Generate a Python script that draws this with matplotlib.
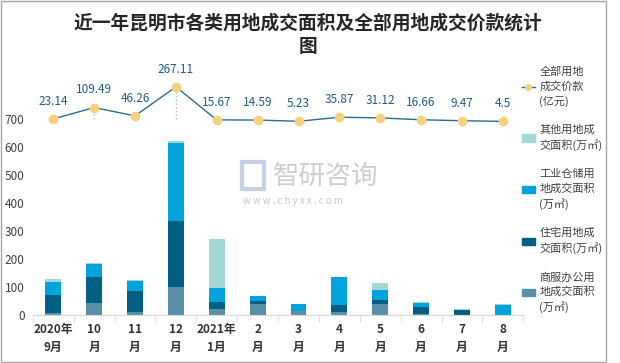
import numpy as np
import matplotlib.pyplot as plt
from matplotlib.patches import Rectangle
from matplotlib.lines import Line2D
from matplotlib.patches import Patch

plt.rcParams['font.family'] = ['Noto Sans CJK SC', 'DejaVu Sans']

months = ["2020年\n9月", "10\n月", "11\n月", "12\n月", "2021年\n1月", "2\n月", "3\n月",
          "4\n月", "5\n月", "6\n月", "7\n月", "8\n月"]
# 用地成交面积 (万㎡)
shangfu = [7, 43, 11, 100, 23, 40, 14, 11, 39, 4, 0, 0]
zhuzhai = [64, 93, 75, 236, 23, 10, 0, 25, 15, 25, 19, 0]
gongye = [47, 47, 35, 278, 50, 18, 25, 100, 35, 14, 0, 36]
qita = [11, 3, 4, 7, 175, 0, 0, 0, 25, 3, 2, 3]
# 全部用地成交价款 (亿元)
price = [23.14, 109.49, 46.26, 267.11, 15.67, 14.59, 5.23, 35.87, 31.12, 16.66, 9.47, 4.5]

c_shangfu = "#5b8fa8"
c_zhuzhai = "#005f82"
c_gongye = "#00a3dc"
c_qita = "#a3d8d5"

fig = plt.figure(figsize=(6.2, 3.63), dpi=100)
ax = fig.add_axes([0.053, 0.132, 0.791, 0.694])

x = np.arange(len(months))
w = 0.39
b1 = np.array(shangfu)
b2 = b1 + np.array(zhuzhai)
b3 = b2 + np.array(gongye)
ax.bar(x, shangfu, w, color=c_shangfu)
ax.bar(x, zhuzhai, w, bottom=b1, color=c_zhuzhai)
ax.bar(x, gongye, w, bottom=b2, color=c_gongye)
ax.bar(x, qita, w, bottom=b3, color=c_qita)

ax.set_xlim(-0.5, 11.5)
ax.set_ylim(0, 900)
ax.set_yticks(range(0, 701, 100))
ax.set_xticks(x)
ax.set_xticklabels(months, fontsize=8.5, fontweight='bold', color='#333333', linespacing=1.5)
ax.set_xticks(np.arange(-0.5, 12, 1), minor=True)
ax.tick_params(axis='x', which='major', length=0, pad=6)
ax.tick_params(axis='x', which='minor', length=5, color='#d9d9d9')
ax.tick_params(axis='y', length=0, labelsize=8.5, labelcolor='#404040', pad=6)
for s in ['top', 'right', 'left']:
    ax.spines[s].set_visible(False)
ax.spines['bottom'].set_color('#d9d9d9')

# line on hidden secondary axis
ax2 = ax.twinx()
ax2.set_ylim(-1468, 447)
ax2.axis('off')
base = 21
for xi, v in zip(x, price):
    if v > base:
        ax2.plot([xi, xi], [base, v], color='#bfbfbf', lw=1, ls=':')
ax2.plot(x, price, color='#23708f', lw=1, marker='o', ms=6,
         mfc='#f7d27c', mec='#f7d27c', zorder=3)
for xi, v in zip(x, price):
    ax2.annotate(f"{v:g}", (xi, v), xytext=(0, 8), textcoords='offset points',
                 ha='center', va='bottom', fontsize=8.5, color='#1f5c85')

fig.text(0.497, 0.905, "近一年昆明市各类用地成交面积及全部用地成交价款统计\n图",
         ha='center', va='center', fontsize=13.5, fontweight='bold', color='#262626',
         linespacing=1.3)

# watermark
fig.text(0.44, 0.515, "智研咨询", fontsize=19, color='#c9c9c9', ha='left', va='center', alpha=0.9)
fig.text(0.392, 0.445, "w w w . c h y x x . c o m", fontsize=7, color='#c9c9c9', ha='left', va='center')
fig.add_artist(Rectangle((0.39, 0.48), 0.035, 0.075, transform=fig.transFigure,
                         fill=False, ec='#c5d0e0', lw=3))

handles = [Line2D([0], [0], color='#23708f', lw=1, marker='o', ms=4, mfc='#f7d27c', mec='#f7d27c'),
           Patch(color=c_qita), Patch(color=c_gongye), Patch(color=c_zhuzhai), Patch(color=c_shangfu)]
labels = ["全部用地\n成交价款\n(亿元)", "其他用地成\n交面积(万㎡)", "工业仓储用\n地成交面积\n(万㎡)",
          "住宅用地成\n交面积(万㎡)", "商服办公用\n地成交面积\n(万㎡)"]
leg = fig.legend(handles, labels, loc='upper left', bbox_to_anchor=(0.825, 0.845), frameon=False,
                 fontsize=8, labelcolor='#404040', handlelength=1.2, handleheight=0.6,
                 handletextpad=0.4, labelspacing=1.6)
for t in leg.get_texts():
    t.set_linespacing(1.45)

fig.add_artist(Rectangle((0.001, 0.003), 0.977, 0.994, transform=fig.transFigure,
                         fill=False, ec='#a6a6a6', lw=1))

fig.savefig("out.png", dpi=100)
